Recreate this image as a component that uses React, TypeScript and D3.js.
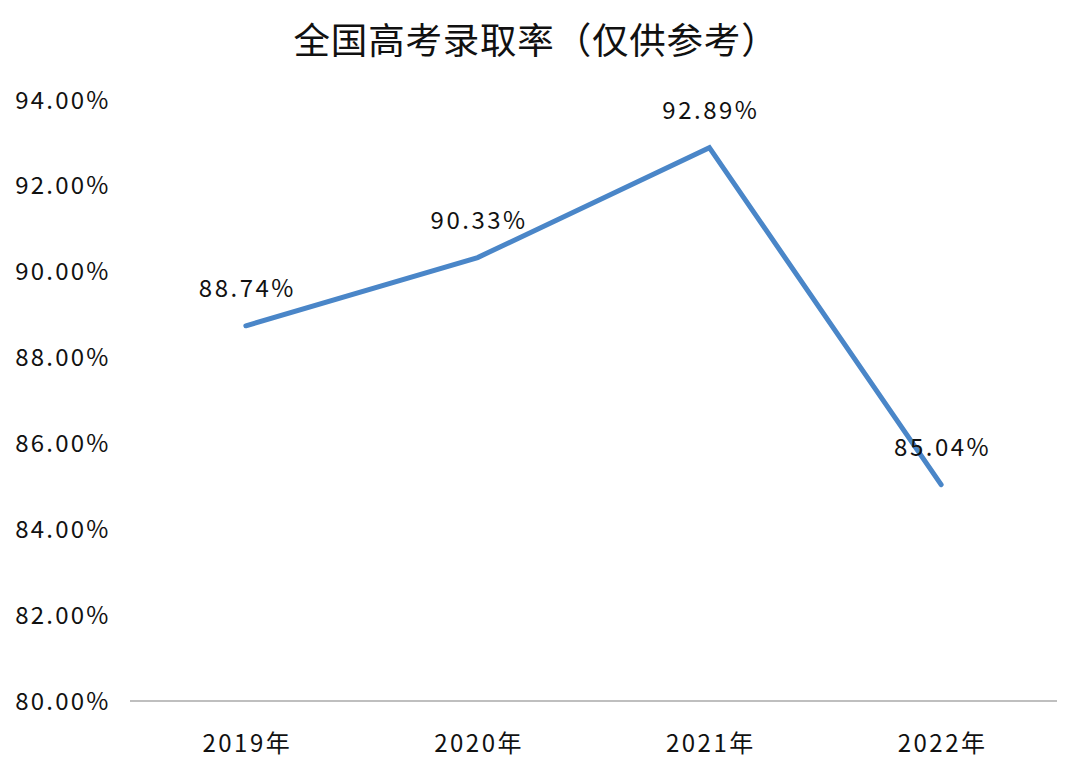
import React from "react";
import * as d3 from "d3";

const title = "全国高考录取率（仅供参考）";
const categories = ["2019年", "2020年", "2021年", "2022年"];
const values = [88.74, 90.33, 92.89, 85.04];
const yTicks = [80, 82, 84, 86, 88, 90, 92, 94];

const W = 1080;
const H = 778;
const FONT = "'Noto Sans CJK SC', 'Noto Sans', sans-serif";

export default function App() {
  const x = d3.scaleBand<string>().domain(categories).range([130, 1057]);
  const y = d3.scaleLinear().domain([80, 94]).range([701, 100]);
  const cx = (c: string) => (x(c) as number) + x.bandwidth() / 2;
  const line = d3
    .line<number>()
    .x((_, i) => cx(categories[i]))
    .y((d) => y(d));

  return (
    <svg
      width={W}
      height={H}
      style={{ position: "absolute", left: 0, top: 0, background: "#fff" }}
      fontFamily={FONT}
    >
      <rect width={W} height={H} fill="#fff" />
      <text x={536} y={38} textAnchor="middle" dominantBaseline="central" fontSize={36.5} letterSpacing={0.8} fill="#111">
        {title}
      </text>
      {yTicks.map((t) => (
        <text
          key={t}
          x={110.5}
          y={y(t) - 2}
          textAnchor="end"
          dominantBaseline="central"
          fontSize={24}
          letterSpacing={2.2}
          fill="#111"
        >
          {t.toFixed(2) + "%"}
        </text>
      ))}
      <line x1={130} x2={1057} y1={y(80)} y2={y(80)} stroke="#bfbfbf" strokeWidth={2} />
      {categories.map((c) => (
        <text
          key={c}
          x={cx(c) + 1.5}
          y={741}
          textAnchor="middle"
          dominantBaseline="central"
          fontSize={24}
          letterSpacing={2.5}
          fill="#111"
        >
          {c}
        </text>
      ))}
      <path
        d={line(values) as string}
        fill="none"
        stroke="#4a86c8"
        strokeWidth={5}
        strokeLinejoin="miter"
        strokeLinecap="round"
      />
      {values.map((v, i) => (
        <text
          key={i}
          x={cx(categories[i]) + 1.5}
          y={y(v) - 39}
          textAnchor="middle"
          dominantBaseline="central"
          fontSize={24}
          letterSpacing={2.5}
          fill="#111"
        >
          {v.toFixed(2) + "%"}
        </text>
      ))}
    </svg>
  );
}
